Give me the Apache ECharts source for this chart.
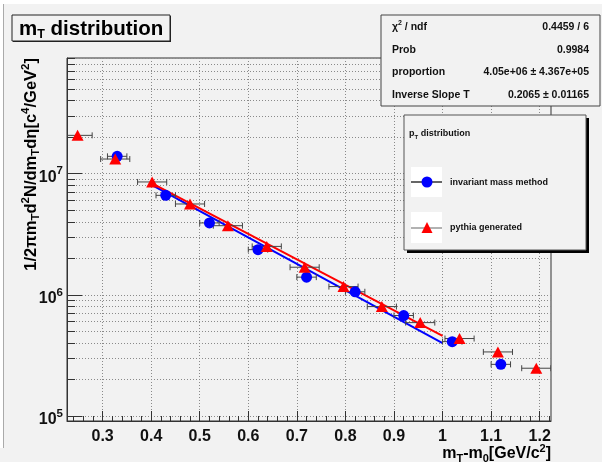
<!DOCTYPE html>
<html><head><meta charset="utf-8">
<script src="https://cdn.jsdelivr.net/npm/echarts@6/dist/echarts.min.js"></script>
<style>html,body{margin:0;padding:0;background:#f2f2f2}#c{width:602px;height:462px}</style>
</head><body><div id="c"></div>
<script>
// ---- data ----
const blueX = [0.33, 0.43, 0.52, 0.62, 0.72, 0.82, 0.92, 1.02, 1.12];
const blueY = [1.39e7, 6.62e6, 3.92e6, 2.36e6, 1.40e6, 1.06e6, 6.75e5, 4.11e5, 2.67e5];
const blueXErr = [0.02, 0.02, 0.02, 0.02, 0.02, 0.02, 0.02, 0.02, 0.02];
const redX = [0.2485, 0.326, 0.402, 0.48, 0.558, 0.638, 0.716, 0.796, 0.875, 0.954, 1.035, 1.114, 1.193];
const redY = [2.07e7, 1.32e7, 8.54e6, 5.62e6, 3.72e6, 2.51e6, 1.69e6, 1.17e6, 8.0e5, 5.90e5, 4.36e5, 3.38e5, 2.48e5];
const redXErr = [0.03, 0.03, 0.03, 0.03, 0.03, 0.03, 0.03, 0.03, 0.03, 0.03, 0.03, 0.03, 0.03];
const fitX = [0.4, 1.0];
const fitBlueY = [8.11e6, 3.99e5];
const fitRedY = [8.38e6, 4.58e5];
const xTicks = [0.3, 0.4, 0.5, 0.6, 0.7, 0.8, 0.9, 1.0, 1.1, 1.2];
const xMinorTicks = [0.24,0.26,0.28,0.32,0.34,0.36,0.38,0.42,0.44,0.46,0.48,0.52,0.54,0.56,0.58,0.62,0.64,0.66,0.68,0.72,0.74,0.76,0.78,0.82,0.84,0.86,0.88,0.92,0.94,0.96,0.98,1.02,1.04,1.06,1.08,1.12,1.14,1.16,1.18,1.22];
const yMajorTicks = [1e5, 1e6, 1e7];
const yMinorTicks = [2e5,3e5,4e5,5e5,6e5,7e5,8e5,9e5,2e6,3e6,4e6,5e6,6e6,7e6,8e6,9e6,2e7,3e7,4e7,5e7,6e7,7e7,8e7,9e7];
const statsLabels = ['{m|\u03C7}{sup|2}{m| / ndf}', 'Prob', 'proportion', 'Inverse Slope T'];
const statsValues = ['0.4459 / 6', '0.9984', '4.05e+06 \u00B1 4.367e+05', '0.2065 \u00B1 0.01165'];

const FONT = '"Liberation Sans", Arial, sans-serif';
const BG = '#f2f2f2';
const AX = '#333';
const GRIDC = '#8a8a8a';

const chart = echarts.init(document.getElementById('c'), null, {renderer: 'canvas', width: 602, height: 462});

function errData(xs, ys, es) { return xs.map((x, i) => [x, ys[i], x - es[i], x + es[i]]); }
function errRender(params, api) {
  const y = api.value(1);
  const p1 = api.coord([api.value(2), y]);
  const p2 = api.coord([api.value(3), y]);
  const h = 3;
  const style = {stroke: '#444', lineWidth: 1, fill: null};
  return {type: 'group', children: [
    {type: 'line', shape: {x1: p1[0], y1: p1[1], x2: p2[0], y2: p2[1]}, style: style},
    {type: 'line', shape: {x1: p1[0], y1: p1[1] - h, x2: p1[0], y2: p1[1] + h}, style: style},
    {type: 'line', shape: {x1: p2[0], y1: p2[1] - h, x2: p2[0], y2: p2[1] + h}, style: style}
  ]};
}

const subSt = {fontSize: 11, fontWeight: 'bold', fontFamily: FONT, padding: [10, 0, 0, 0]};
const supSt = {fontSize: 11, fontWeight: 'bold', fontFamily: FONT, padding: [0, 0, 11, 0]};
const mSt = {fontSize: 16, fontWeight: 'bold', fontFamily: FONT};
const ySubSt = {fontSize: 11.5, fontWeight: 'bold', fontFamily: FONT, padding: [10, 0, 0, 0]};
const ySupSt = {fontSize: 11.5, fontWeight: 'bold', fontFamily: FONT, padding: [0, 0, 11, 0]};
const yMSt = {fontSize: 16.5, fontWeight: 'bold', fontFamily: FONT};

const xMin = 0.2267, xMax = 1.2233, yMin = 9.1e4, yMax = 9.0e7;

const graphics = [
  // outer window strips
  {type: 'rect', shape: {x: 0, y: 0, width: 602, height: 4}, style: {fill: '#ffffff'}, z: 1},
  {type: 'rect', shape: {x: 0, y: 0, width: 3, height: 448}, style: {fill: '#ffffff'}, z: 1},
  {type: 'line', shape: {x1: 3.5, y1: 4, x2: 3.5, y2: 448}, style: {stroke: '#aaaaaa', lineWidth: 1}, z: 1},
  // title box
  {type: 'rect', shape: {x: 13, y: 16, width: 158, height: 26}, style: {fill: '#222'}, z: 50},
  {type: 'rect', shape: {x: 12, y: 15, width: 158, height: 26}, style: {fill: BG, stroke: '#222', lineWidth: 1}, z: 51},
  {type: 'text', x: 19, y: 29, z: 52, style: {
    text: '{t|m}{ts|T}{t| distribution}', verticalAlign: 'middle', align: 'left',
    rich: {t: {fontSize: 20.5, fontWeight: 'bold', fontFamily: FONT, fill: '#000'},
           ts: {fontSize: 12.5, fontWeight: 'bold', fontFamily: FONT, fill: '#000', padding: [11, 0, 0, 0]}}
  }},
  // stats box
  {type: 'rect', shape: {x: 381, y: 15, width: 219, height: 91}, style: {fill: BG, stroke: '#444', lineWidth: 1}, z: 50},
  // legend box with shadow
  {type: 'rect', shape: {x: 407, y: 118, width: 182, height: 135}, style: {fill: '#000'}, z: 50},
  {type: 'rect', shape: {x: 404, y: 115, width: 182, height: 135}, style: {fill: BG, stroke: '#555', lineWidth: 1}, z: 51},
  {type: 'text', x: 409, y: 134, z: 52, style: {
    text: '{a|p}{b|T}{a| distribution}', verticalAlign: 'middle',
    rich: {a: {fontSize: 9, fontWeight: 'bold', fontFamily: FONT, fill: '#111'},
           b: {fontSize: 6, fontWeight: 'bold', fontFamily: FONT, fill: '#111', padding: [6, 0, 0, 0]}}
  }},
  {type: 'rect', shape: {x: 411, y: 167, width: 31, height: 30}, style: {fill: '#fff'}, z: 52},
  {type: 'line', shape: {x1: 411, y1: 182, x2: 442, y2: 182}, style: {stroke: '#333', lineWidth: 1.5}, z: 53},
  {type: 'circle', shape: {cx: 427, cy: 182, r: 5.5}, style: {fill: '#0000ff'}, z: 54},
  {type: 'text', x: 450, y: 183, z: 52, style: {text: 'invariant mass method', font: 'bold 9px ' + FONT, fill: '#111', verticalAlign: 'middle'}},
  {type: 'rect', shape: {x: 411, y: 212, width: 31, height: 31}, style: {fill: '#fff'}, z: 52},
  {type: 'line', shape: {x1: 411, y1: 228, x2: 442, y2: 228}, style: {stroke: '#999', lineWidth: 1.5}, z: 53},
  {type: 'polygon', shape: {points: [[427, 222], [421.5, 233], [432.5, 233]]}, style: {fill: '#ff0000'}, z: 54},
  {type: 'text', x: 450, y: 228, z: 52, style: {text: 'pythia generated', font: 'bold 9px ' + FONT, fill: '#111', verticalAlign: 'middle'}},
  // y axis title
  {type: 'text', x: 31, y: 58, rotation: Math.PI / 2, z: 10, style: {
    text: '{m|1/2\u03C0m}{sub|T}{m|d}{sup|2}{m|N/dm}{sub|T}{m|d\u03B7[c}{sup|4}{m|/GeV}{sup|2}{m|]}',
    align: 'right', verticalAlign: 'middle', rich: {m: yMSt, sub: ySubSt, sup: ySupSt}
  }},
  // x axis title
  {type: 'text', x: 551, y: 454, z: 10, style: {
    text: '{m|m}{sub|T}{m|-m}{sub|0}{m|[GeV/c}{sup|2}{m|]}',
    align: 'right', verticalAlign: 'middle', rich: {m: mSt, sub: subSt, sup: supSt}
  }}
];
const rowY = [27, 50, 72, 95];
statsLabels.forEach((s, i) => {
  graphics.push({type: 'text', x: 392, y: rowY[i], z: 52, style: {
    text: s.indexOf('{') === 0 ? s : '{m|' + s + '}', verticalAlign: 'middle',
    rich: {m: {fontSize: 10.5, fontWeight: 'bold', fontFamily: FONT, fill: '#111'},
           sup: {fontSize: 7, fontWeight: 'bold', fontFamily: FONT, fill: '#111', padding: [0, 0, 7, 0]}}
  }});
  graphics.push({type: 'text', x: 589, y: rowY[i], z: 52, style: {
    text: statsValues[i], font: 'bold 10.5px ' + FONT, fill: '#111', align: 'right', verticalAlign: 'middle'
  }});
});

const option = {
  animation: false,
  backgroundColor: BG,
  grid: {left: 67, top: 58, width: 484, height: 363, show: true, borderColor: AX, borderWidth: 1, backgroundColor: BG},
  xAxis: [
    {type: 'value', min: xMin, max: xMax, position: 'bottom',
     axisLine: {show: true, onZero: false, lineStyle: {color: AX}},
     axisTick: {show: true, inside: true, length: 10, customValues: xTicks, lineStyle: {color: AX}},
     axisLabel: {show: true, customValues: xTicks, margin: 8, formatter: v => String(Math.round(v * 10) / 10),
                 fontSize: 16, fontWeight: 'bold', fontFamily: FONT, color: '#111'},
     splitLine: {show: true, lineStyle: {color: GRIDC, type: [1, 2], width: 1}}},
    {type: 'value', min: xMin, max: xMax, position: 'bottom',
     axisLine: {show: false}, axisLabel: {show: false}, splitLine: {show: false},
     axisTick: {show: true, inside: true, length: 5, customValues: xMinorTicks, lineStyle: {color: AX}}}
  ],
  yAxis: [
    {type: 'log', logBase: 10, min: yMin, max: yMax, position: 'left',
     axisLine: {show: true, onZero: false, lineStyle: {color: AX}},
     axisTick: {show: true, inside: true, length: 15, customValues: yMajorTicks, lineStyle: {color: AX}},
     axisLabel: {show: true, customValues: yMajorTicks, margin: 4,
                 formatter: v => '{b|10}{s|' + Math.round(Math.log10(v)) + '}',
                 rich: {b: {fontSize: 16, fontWeight: 'bold', fontFamily: FONT, color: '#111', padding: [7, 0, 0, 0]},
                        s: {fontSize: 11.5, fontWeight: 'bold', fontFamily: FONT, color: '#111', padding: [0, 0, 5, 0]}}},
     splitLine: {show: true, lineStyle: {color: GRIDC, type: [1, 2], width: 1}}},
    {type: 'log', logBase: 10, min: yMin, max: yMax, position: 'left',
     axisLine: {show: false}, axisLabel: {show: false},
     axisTick: {show: true, inside: true, length: 8, customValues: yMinorTicks, lineStyle: {color: AX}},
     splitLine: {show: true, lineStyle: {color: GRIDC, type: [1, 2], width: 1}}}
  ],
  graphic: graphics,
  series: [
    {type: 'line', name: 'fit invariant mass', data: fitX.map((x, i) => [x, fitBlueY[i]]), showSymbol: false, symbol: 'none',
     lineStyle: {color: '#0000ff', width: 2}, z: 3, silent: true},
    {type: 'line', name: 'fit pythia', data: fitX.map((x, i) => [x, fitRedY[i]]), showSymbol: false, symbol: 'none',
     lineStyle: {color: '#ff0000', width: 2}, z: 3, silent: true},
    {type: 'custom', name: 'err blue', data: errData(blueX, blueY, blueXErr), renderItem: errRender, clip: true,
     encode: {x: [0, 2, 3], y: 1}, z: 4},
    {type: 'custom', name: 'err red', data: errData(redX, redY, redXErr), renderItem: errRender, clip: true,
     encode: {x: [0, 2, 3], y: 1}, z: 4},
    {type: 'scatter', name: 'invariant mass method', data: blueX.map((x, i) => [x, blueY[i]]), symbol: 'circle', symbolSize: 11,
     itemStyle: {color: '#0000ff', opacity: 1}, z: 5, clip: true},
    {type: 'scatter', name: 'pythia generated', data: redX.map((x, i) => [x, redY[i]]), symbol: 'triangle', symbolSize: [12, 11],
     itemStyle: {color: '#ff0000', opacity: 1}, z: 6, clip: true}
  ]
};
chart.setOption(option);
</script>
</body></html>
